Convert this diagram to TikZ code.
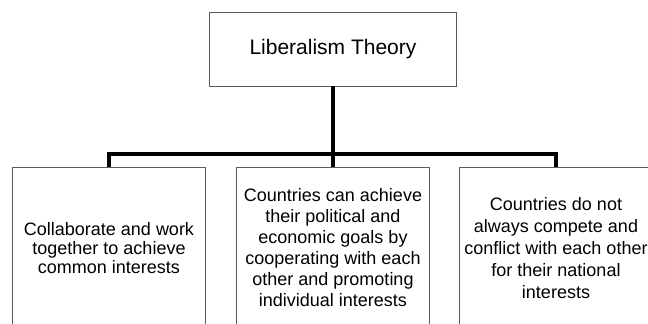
\documentclass[tikz,border=0pt]{standalone}
\usepackage{fontspec}
\setmainfont{Liberation Sans}
\begin{document}
\begin{tikzpicture}[x=1pt,y=1pt,
  box/.style={draw=black!65, line width=0.8pt, inner sep=0pt, align=center},
  leaf/.style={box, minimum width=193, minimum height=162},
  link/.style={line width=3.2pt, line join=miter}]

\useasboundingbox (0,0) rectangle (648,324);
\clip (0,0) rectangle (648,324);

\node[box, minimum width=247, minimum height=74, font=\fontsize{21}{25}\selectfont] (root) at (333,275) {Liberalism Theory};

\node[leaf, font=\fontsize{18}{19}\selectfont] (l1) at (109,76) {Collaborate and work\\together to achieve\\common interests};
\node[leaf, font=\fontsize{18}{21}\selectfont] (l2) at (333,76) {Countries can achieve\\their political and\\economic goals by\\cooperating with each\\other and promoting\\individual interests};
\node[leaf, font=\fontsize{18}{22}\selectfont] (l3) at (556,76) {Countries do not\\always compete and\\conflict with each other\\for their national\\interests};

\coordinate (bar) at (0,170);

\draw[link] (root.south) -- (l2.north);
\draw[link] (l1.north) -- (l1.north |- bar) -- (l3.north |- bar) -- (l3.north);

\end{tikzpicture}
\end{document}
